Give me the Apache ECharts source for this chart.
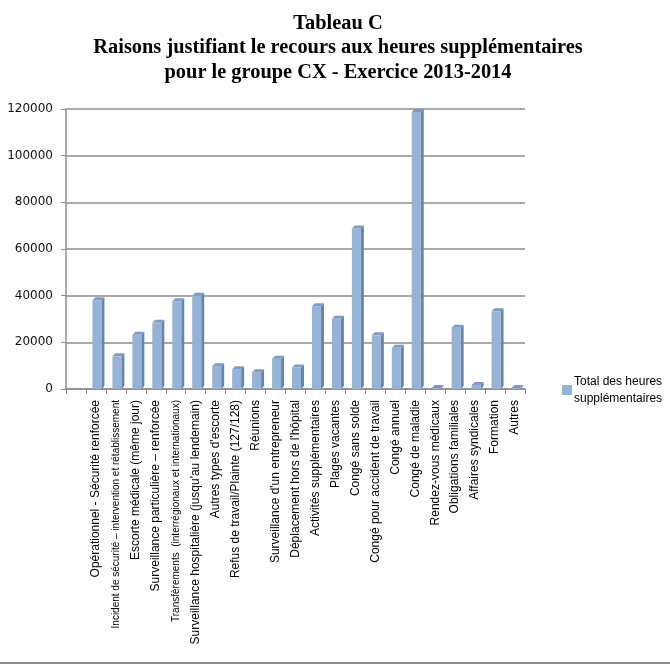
<!DOCTYPE html>
<html>
<head>
<meta charset="utf-8">
<script src="https://cdn.jsdelivr.net/npm/echarts@6/dist/echarts.min.js"></script>
<style>
    html, body { margin: 0; padding: 0; background: #fff; }
    #chart { width: 670px; height: 664px; }
</style>
</head>
<body>
<div id="chart"></div>
<script>
// categories (first slot is empty in the original chart)
var categories = [
    '',
    'Opérationnel - Sécurité renforcée',
    'Incident de sécurité – intervention et rétablissement',
    'Escorte médicale (même jour)',
    'Surveillance particulière – renforcée',
    'Transfèrements  (interrégionaux et internationaux)',
    'Surveillance hospitalière (jusqu\'au lendemain)',
    'Autres types d\'escorte',
    'Refus de travail/Plainte (127/128)',
    'Réunions',
    'Surveillance d\'un entrepreneur',
    'Déplacement hors de l\'hôpital',
    'Activités supplémentaires',
    'Plages vacantes',
    'Congé sans solde',
    'Congé pour accident de travail',
    'Congé annuel',
    'Congé de maladie',
    'Rendez-vous médicaux',
    'Obligations familiales',
    'Affaires syndicales',
    'Formation',
    'Autres'
];
var heures = [
    0, 38000, 14000, 23300, 28400, 37600, 40000, 9800, 8500, 7200, 13000,
    9200, 35500, 30100, 68800, 23000, 17700, 118700, 400, 26300, 1700, 33300, 400
];
var yTicks = [0, 20000, 40000, 60000, 80000, 100000, 120000];
var seriesName = 'Total des heures\nsupplémentaires';

// labels written smaller in the original
var smallLabels = [2, 5];

var chart = echarts.init(document.getElementById('chart'));

//3D-like column: front face, side face, cap
function renderBar(params, api) {
    var idx = api.value(0), val = api.value(1);
    if (!val) return;
    var top = api.coord([idx, val]);
    var base = api.coord([idx, 0]);
    var w = 9, d = 3;
    var x0 = top[0] - w / 2 + 1;
    var front = { x: x0, y: top[1], width: w, height: base[1] - top[1] };
    return {
        type: 'group',
        children: [
            {
                type: 'polygon',
                shape: { points: [[x0 + w, top[1]], [x0 + w + d, top[1] - d], [x0 + w + d, base[1] - d], [x0 + w, base[1]]] },
                style: { fill: '#6a83a8' }
            },
            {
                type: 'polygon',
                shape: { points: [[x0, top[1]], [x0 + d, top[1] - d], [x0 + w + d, top[1] - d], [x0 + w, top[1]]] },
                style: { fill: '#7f9bc4' }
            },
            {
                type: 'rect',
                shape: front,
                style: { fill: '#95b3d7' }
            }
        ]
    };
}

var option = {
    backgroundColor: '#fff',
    animation: false,
    title: {
        text: 'Tableau C\nRaisons justifiant le recours aux heures supplémentaires\npour le groupe CX - Exercice 2013-2014',
        left: 333,
        textAlign: 'center',
        top: 6,
        textStyle: {
            fontFamily: 'Liberation Serif',
            fontWeight: 'bold',
            fontSize: 20.4,
            lineHeight: 24.5,
            color: '#000'
        }
    },
    legend: {
        left: 557,
        top: 361,
        orient: 'vertical',
        itemWidth: 10,
        itemHeight: 10,
        itemGap: 4,
        icon: 'rect',
        data: [{ name: seriesName, itemStyle: { color: '#95b3d7' } }],
        textStyle: {
            fontFamily: 'Liberation Sans',
            fontSize: 12,
            lineHeight: 17,
            color: '#000',
            padding: [14, 0, 0, -3]
        }
    },
    grid: {
        left: 66,
        right: 145,
        top: 109,
        bottom: 275,
        containLabel: false
    },
    xAxis: {
        type: 'category',
        data: categories,
        boundaryGap: true,
        axisLine: { lineStyle: { color: '#8c8c8c', width: 1.5 } },
        axisTick: { show: true, length: 5, lineStyle: { color: '#8c8c8c' } },
        axisLabel: {
            interval: 0,
            rotate: 90,
            margin: 11,
            fontFamily: 'Liberation Sans',
            fontSize: 12,
            color: '#000',
            formatter: function (v, i) {
                if (smallLabels.indexOf(i) >= 0) return '{s|' + v + '}';
                return v;
            },
            rich: {
                s: { fontFamily: 'Liberation Sans', fontSize: 10, color: '#000' }
            }
        }
    },
    yAxis: {
        type: 'value',
        min: yTicks[0],
        max: yTicks[yTicks.length - 1],
        interval: 20000,
        axisLine: { show: true, lineStyle: { color: '#8c8c8c', width: 1.5 } },
        axisTick: { show: true, length: 5, lineStyle: { color: '#8c8c8c' } },
        splitLine: { show: true, lineStyle: { color: '#8c8c8c', width: 1.5 } },
        axisLabel: {
            margin: 13,
            fontFamily: 'DejaVu Sans',
            fontSize: 12,
            color: '#111',
            formatter: function (v) { return String(v); }
        }
    },
    series: [{
        name: seriesName,
        type: 'custom',
        renderItem: renderBar,
        encode: { x: 0, y: 1 },
        data: heures.map(function (v, i) { return [i, v]; }),
        itemStyle: { color: '#95b3d7' }
    }],
    graphic: [{
        type: 'line',
        shape: { x1: 0, y1: 663, x2: 670, y2: 663 },
        style: { stroke: '#8c8c8c', lineWidth: 2 }
    }]
};

chart.setOption(option);
</script>
</body>
</html>
